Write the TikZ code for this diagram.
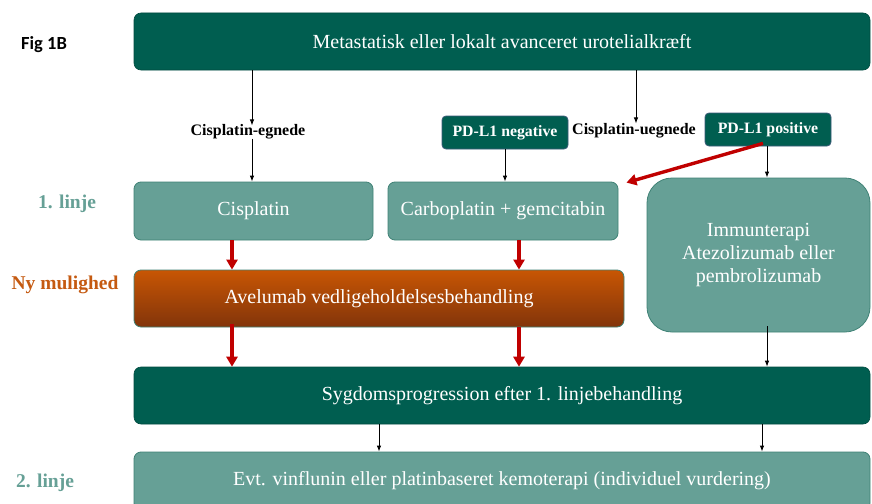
\documentclass[tikz,border=0pt]{standalone}
\usepackage{fontspec}
\setmainfont{Liberation Serif}
\newfontfamily\figfont{Carlito}
\usetikzlibrary{arrows.meta,calc}
\definecolor{dkgreen}{RGB}{0,94,80}
\definecolor{teal2}{RGB}{102,160,150}
\definecolor{tealborder}{RGB}{64,130,118}
\definecolor{orangetop}{RGB}{200,86,4}
\definecolor{orangebot}{RGB}{130,52,10}
\definecolor{orangetxt}{RGB}{197,90,17}
\definecolor{redarrow}{RGB}{192,0,0}
\definecolor{pdborder}{RGB}{60,90,120}
\tikzset{
  darkbox/.style={rectangle, rounded corners=7pt, fill=dkgreen, draw=dkgreen!80!black, line width=0.6pt,
    text=white, font=\fontsize{20}{23}\selectfont, inner sep=0pt},
  tealbox/.style={rectangle, rounded corners=7pt, fill=teal2, draw=tealborder, line width=0.8pt,
    text=white, font=\fontsize{20}{23}\selectfont, inner sep=0pt},
  pdbox/.style={rectangle, rounded corners=4pt, fill=dkgreen, draw=pdborder, line width=0.8pt,
    text=white, font=\bfseries\fontsize{15.8}{18}\selectfont, minimum width=126pt, minimum height=33pt, inner sep=0pt},
  lbl/.style={font=\bfseries\fontsize{16}{18}\selectfont, inner sep=1pt},
  sidelbl/.style={font=\bfseries\fontsize{19.5}{22}\selectfont, inner sep=0pt},
  blk/.style={-{Latex[length=6pt,width=4.5pt]}, line width=0.9pt, black},
  redarr/.style={-{Triangle[length=10pt,width=11pt]}, line width=3.4pt, redarrow},
}
\begin{document}
\begin{tikzpicture}[x=1pt,y=-1pt]
\useasboundingbox (0,0) rectangle (872,503);
\fill[white] (0,0) rectangle (872,503);

% side labels
\node[font=\figfont\bfseries\fontsize{18.5}{20}\selectfont] (fig) at (44,45) {Fig 1B};
\node[sidelbl, text=teal2] (l1) at (67,204) {1. linje};
\node[sidelbl, text=orangetxt] (ny) at (65,285) {Ny mulighed};
\node[sidelbl, text=teal2] (l2) at (45,483) {2. linje};

% boxes
\node[darkbox, minimum width=736pt, minimum height=57pt] (top) at (502,41.5) {Metastatisk eller lokalt avanceret urotelialkræft};
\node[lbl] (egn) at (248,132) {Cisplatin-egnede};
\node[lbl] (ueg) at (634,131) {Cisplatin-uegnede};
\node[pdbox] (pdn) at (505,132.5) {PD-L1 negative};
\node[pdbox] (pdp) at (768,129.5) {PD-L1 positive};

\node[tealbox, minimum width=239pt, minimum height=58pt] (cis) at (253.5,211) {Cisplatin};
\node[tealbox, minimum width=230pt, minimum height=58pt] (carbo) at (503,211) {Carboplatin + gemcitabin};
\node[tealbox, rounded corners=25pt, minimum width=223pt, minimum height=154pt, align=center] (imm) at (758.5,255)
  {Immunterapi\\Atezolizumab eller\\pembrolizumab};

\node[rectangle, rounded corners=7pt, top color=orangetop, bottom color=orangebot, draw=tealborder, line width=0.8pt,
  text=white, font=\fontsize{20}{23}\selectfont, inner sep=0pt, minimum width=490pt, minimum height=57pt] (ave) at (379,298.5)
  {Avelumab vedligeholdelsesbehandling};

\node[darkbox, minimum width=736pt, minimum height=57pt] (syg) at (502,395.5) {Sygdomsprogression efter 1. linjebehandling};
\node[tealbox, minimum width=736pt, minimum height=58pt] (bot) at (502,481) {Evt. vinflunin eller platinbaseret kemoterapi (individuel vurdering)};

% coordinates for arrow columns
\coordinate (c1) at (252,0);
\coordinate (cu) at (636,0);
\coordinate (r1) at (232,0);
\coordinate (r2) at (519,0);
\coordinate (b1) at (379,0);
\coordinate (b2) at (762,0);
\coordinate (bi) at (767,0);

% black arrows
\draw[blk] (top.south -| c1) -- ([yshift=-2pt]egn.north -| c1);
\draw[blk] ([yshift=2pt]egn.south -| c1) -- (cis.north -| c1);
\draw[blk] (top.south -| cu) -- ([yshift=-1pt]ueg.north -| cu);
\draw[blk] (pdn.south) -- (pdn.south |- carbo.north);
\draw[blk] (pdp.south -| bi) -- (imm.north -| bi);
\draw[blk] ([yshift=6pt]imm.south -| bi) -- (syg.north -| bi);
\draw[blk] (syg.south -| b1) -- (bot.north -| b1);
\draw[blk] (syg.south -| b2) -- (bot.north -| b2);

% red arrows
\draw[redarr] ([xshift=-5pt,yshift=3pt]pdp.south) -- ([xshift=8pt,yshift=-1pt]carbo.north east);
\draw[redarr] (cis.south -| r1) -- (ave.north -| r1);
\draw[redarr] (carbo.south -| r2) -- (ave.north -| r2);
\draw[redarr] ([yshift=3pt]ave.south -| r1) -- (syg.north -| r1);
\draw[redarr] (ave.south -| r2) -- (syg.north -| r2);
\end{tikzpicture}
\end{document}
